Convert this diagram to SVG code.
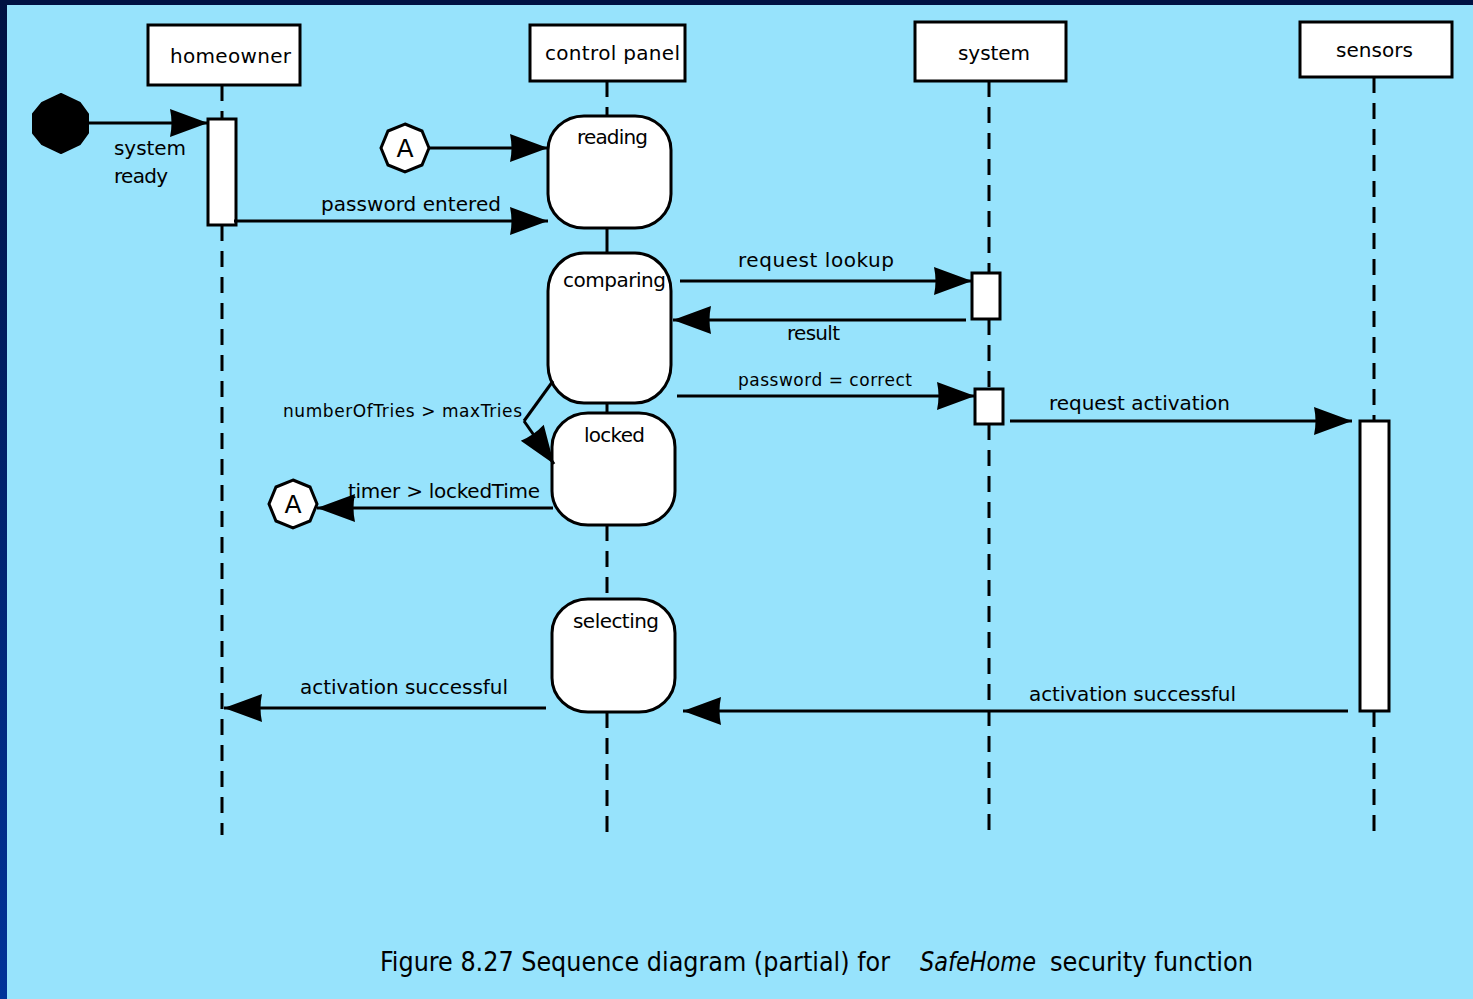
<svg xmlns="http://www.w3.org/2000/svg" width="1473" height="999" viewBox="0 0 1473 999">
<defs>
<linearGradient id="lg" x1="0" y1="0" x2="0" y2="1">
<stop offset="0" stop-color="#001242"/>
<stop offset="1" stop-color="#003399"/>
</linearGradient>
<marker id="ah" markerUnits="userSpaceOnUse" markerWidth="42" markerHeight="32" refX="39" refY="15" orient="auto">
<path d="M1,1 Q4,15 1,29 L39,15 Z" fill="#000"/>
</marker>
<style>
.t{font-family:"DejaVu Sans","Liberation Sans",sans-serif;font-size:20px;fill:#000}
.s{font-size:17px}
.big{font-size:25px}
.cap{font-family:"DejaVu Sans Condensed","DejaVu Sans","Liberation Sans Narrow",sans-serif;font-size:26px;fill:#000}
.box{fill:#fff;stroke:#000;stroke-width:3}
.ll{stroke:#000;stroke-width:3;fill:none}
.dash{stroke-dasharray:16 10}
.msg{stroke:#000;stroke-width:3;fill:none;marker-end:url(#ah)}
.st{fill:#fff;stroke:#000;stroke-width:3}
</style>
</defs>
<rect x="0" y="0" width="1473" height="999" fill="#97E3FC"/>
<rect x="0" y="0" width="7" height="999" fill="url(#lg)"/>
<rect x="0" y="0" width="1473" height="5" fill="#001242"/>

<g id="lifelines">
<path class="ll dash" d="M222,85V119M222,225V835"/>
<path class="ll dash" d="M607,81V116M607,525V599M607,712V835"/>
<path class="ll" d="M607,228V253M607,403V413"/>
<path class="ll dash" d="M989,81V273M989,319V389M989,424V835"/>
<path class="ll dash" d="M1374,77V421M1374,711V832"/>
</g>

<g id="homeowner">
<rect class="box" x="148" y="25" width="152" height="60"/>
<text class="t" x="170" y="63" textLength="121">homeowner</text>
<rect class="box" x="208" y="119" width="28" height="106"/>
</g>
<g id="control-panel">
<rect class="box" x="530" y="25" width="155" height="56"/>
<text class="t" x="545" y="60" textLength="135">control panel</text>
</g>
<g id="system">
<rect class="box" x="915" y="22" width="151" height="59"/>
<text class="t" x="958" y="60" textLength="72">system</text>
<rect class="box" x="972" y="273" width="28" height="46"/>
<rect class="box" x="975" y="389" width="28" height="35"/>
</g>
<g id="sensors">
<rect class="box" x="1300" y="22" width="152" height="55"/>
<text class="t" x="1336" y="57" textLength="77">sensors</text>
<rect class="box" x="1360" y="421" width="29" height="290"/>
</g>

<g id="start">
<path d="M61,94 L80,103 L88,114 L88,133 L80,144 L61,153 L42,144 L33,133 L33,114 L42,103 Z" fill="#000" stroke="#000" stroke-width="2" stroke-linejoin="round"/>
</g>

<g id="connector-A1">
<polygon class="st" points="405,124 422,131 429,148 422,165 405,172 388,165 381,148 388,131"/>
<text class="t big" x="405" y="157" text-anchor="middle">A</text>
</g>
<g id="connector-A2">
<polygon class="st" points="293,480 310,487 317,504 310,521 293,528 276,521 269,504 276,487"/>
<text class="t big" x="293" y="513" text-anchor="middle">A</text>
</g>

<g id="state-reading">
<rect class="st" x="548" y="116" width="123" height="112" rx="36" ry="34"/>
<text class="t" x="577" y="144" textLength="71">reading</text>
</g>
<g id="state-comparing">
<rect class="st" x="548" y="253" width="123" height="150" rx="36" ry="38"/>
<text class="t" x="563" y="287" textLength="103">comparing</text>
</g>
<g id="state-locked">
<rect class="st" x="552" y="413" width="123" height="112" rx="36" ry="34"/>
<text class="t" x="584" y="442" textLength="61">locked</text>
</g>
<g id="state-selecting">
<rect class="st" x="552" y="599" width="123" height="113" rx="36" ry="34"/>
<text class="t" x="573" y="628" textLength="86">selecting</text>
</g>

<g id="connectors">
<line class="msg" x1="88" y1="123" x2="208" y2="123"/>
<line class="msg" x1="428" y1="148" x2="548" y2="148"/>
<line class="msg" x1="234" y1="221" x2="548" y2="221"/>
<line class="msg" x1="680" y1="281" x2="972" y2="281"/>
<line class="msg" x1="966" y1="320" x2="673" y2="320"/>
<line class="msg" x1="677" y1="396" x2="975" y2="396"/>
<line class="msg" x1="1010" y1="421" x2="1352" y2="421"/>
<path class="ll" d="M553,381 L524,421"/>
<line class="msg" x1="524" y1="421" x2="554" y2="464"/>
<line class="msg" x1="553" y1="508" x2="317" y2="508"/>
<line class="msg" x1="546" y1="708" x2="224" y2="708"/>
<line class="msg" x1="1348" y1="711" x2="683" y2="711"/>
</g>

<g id="labels">
<text class="t" x="114" y="155" textLength="72">system</text>
<text class="t" x="114" y="183" textLength="54">ready</text>
<text class="t" x="321" y="211" textLength="180">password entered</text>
<text class="t" x="738" y="267" textLength="156">request  lookup</text>
<text class="t" x="787" y="340" textLength="53">result</text>
<text class="t s" x="738" y="386" textLength="174">password = correct</text>
<text class="t" x="1049" y="410" textLength="181">request activation</text>
<text class="t s" x="283" y="417" textLength="239">numberOfTries  &gt; maxTries</text>
<text class="t" x="348" y="498" textLength="192">timer &gt; lockedTime</text>
<text class="t" x="300" y="694" textLength="208">activation successful</text>
<text class="t" x="1029" y="701" textLength="207">activation successful</text>
</g>

<g id="caption">
<text class="cap" y="971"><tspan x="380" textLength="510" lengthAdjust="spacingAndGlyphs">Figure 8.27  Sequence diagram (partial) for</tspan><tspan x="920" font-style="italic" textLength="116" lengthAdjust="spacingAndGlyphs">SafeHome</tspan><tspan x="1050" textLength="203" lengthAdjust="spacingAndGlyphs">security function</tspan></text>
</g>
</svg>
